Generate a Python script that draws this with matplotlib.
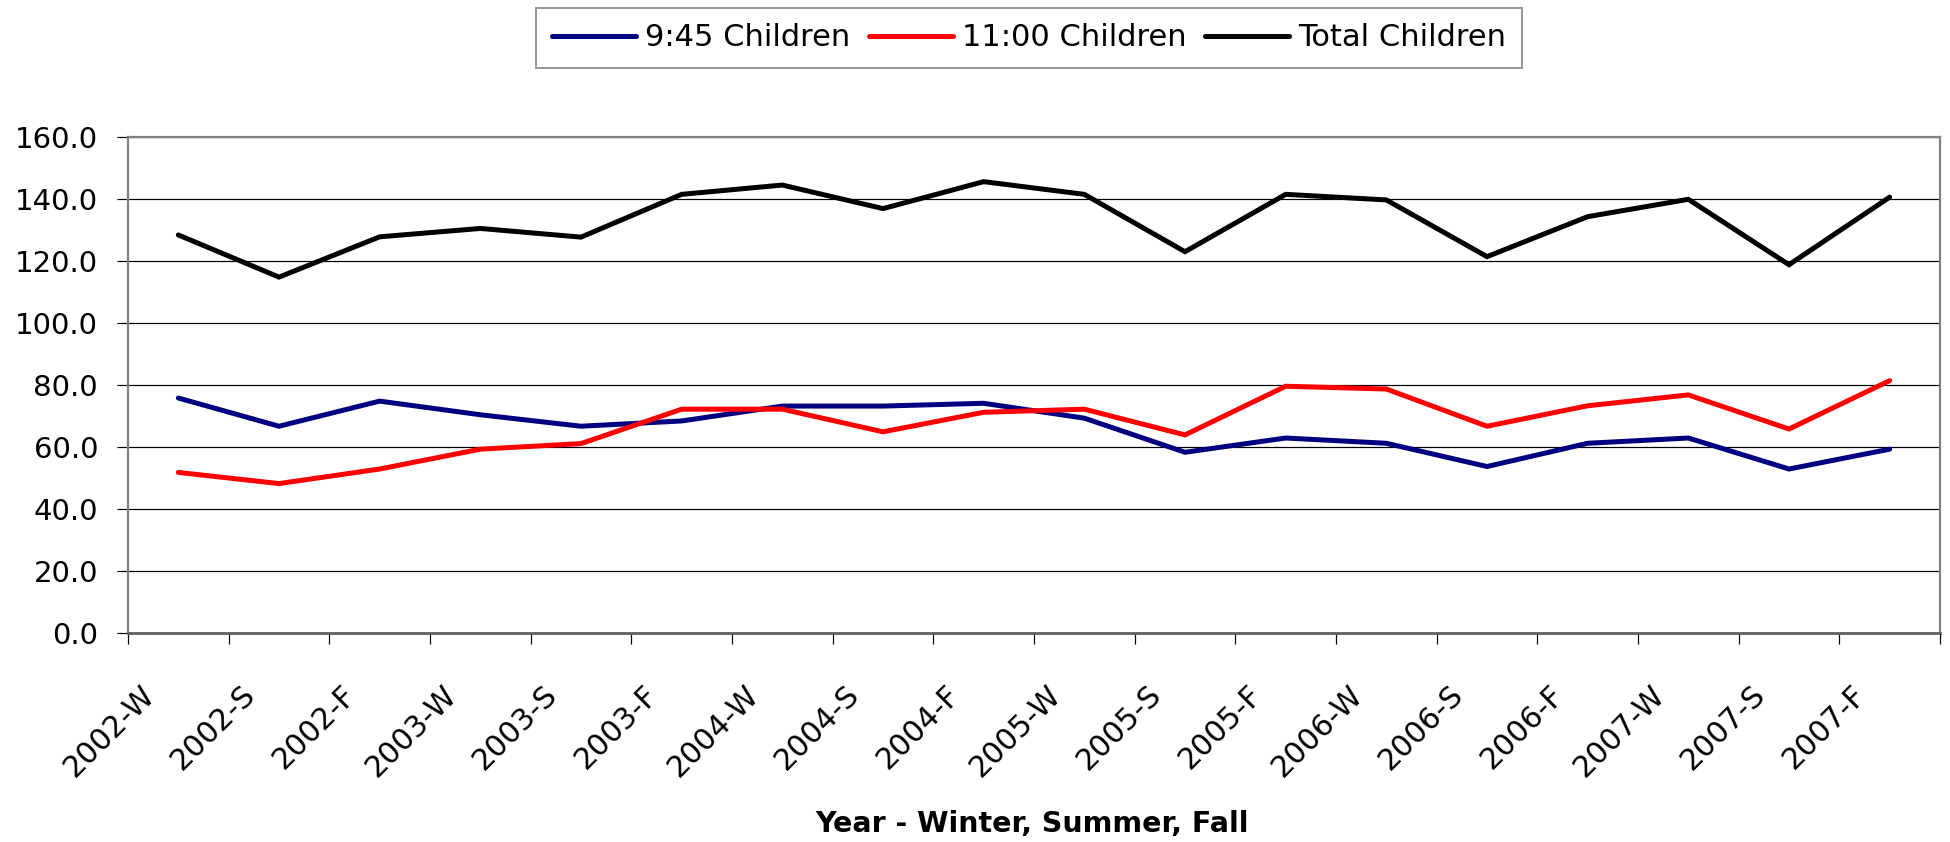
import matplotlib
matplotlib.use("Agg")
import matplotlib.pyplot as plt
from matplotlib.ticker import FixedLocator, FormatStrFormatter
from matplotlib.transforms import ScaledTranslation

categories = ["2002-W", "2002-S", "2002-F", "2003-W", "2003-S", "2003-F",
              "2004-W", "2004-S", "2004-F", "2005-W", "2005-S", "2005-F",
              "2006-W", "2006-S", "2006-F", "2007-W", "2007-S", "2007-F"]
children_945 = [75.8, 66.7, 74.8, 70.4, 66.7, 68.4, 73.2, 73.2, 74.1, 69.3,
                58.3, 62.9, 61.2, 53.7, 61.2, 62.9, 52.9, 59.3]
children_1100 = [51.8, 48.2, 52.9, 59.3, 61.1, 72.2, 72.2, 64.9, 71.2, 72.2,
                 63.9, 79.6, 78.7, 66.7, 73.3, 76.8, 65.8, 81.4]
children_total = [128.4, 114.8, 127.8, 130.5, 127.7, 141.5, 144.5, 136.9, 145.6,
                  141.5, 123.0, 141.5, 139.7, 121.4, 134.3, 139.9, 118.8, 140.6]
series_names = ["9:45 Children", "11:00 Children", "Total Children"]
series_colors = ["#000080", "#FF0000", "#000000"]
y_ticks = [0, 20, 40, 60, 80, 100, 120, 140, 160]
x_title = "Year - Winter, Summer, Fall"

W, H, DPI = 1950, 842, 100
px = 72.0 / DPI  # points per pixel

plt.rcParams["font.family"] = ["DejaVu Sans"]
fig = plt.figure(figsize=(W / DPI, H / DPI), dpi=DPI)
left, right, top, bottom = 128, 1940, 137, 633
ax = fig.add_axes([left / W, 1 - bottom / H, (right - left) / W, (bottom - top) / H])

x = list(range(len(categories)))
lines = []
for vals, name, col in zip([children_945, children_1100, children_total], series_names, series_colors):
    ln, = ax.plot(x, vals, color=col, lw=5.0 * px, label=name, solid_joinstyle="miter",
                  solid_capstyle="round", zorder=3)
    lines.append(ln)

ax.set_xlim(-0.5, len(categories) - 0.5)
ax.set_ylim(0, 160)
ax.set_yticks(y_ticks)
ax.yaxis.set_major_formatter(FormatStrFormatter("%.1f"))
ax.grid(axis="y", color="black", lw=1.2 * px, zorder=1)
ax.set_axisbelow(True)

# x: major ticks at category boundaries, labels at centers (minor)
ax.xaxis.set_major_locator(FixedLocator([i - 0.5 for i in range(len(categories) + 1)]))
ax.xaxis.set_major_formatter(plt.NullFormatter())
ax.xaxis.set_minor_locator(FixedLocator(x))
ax.set_xticklabels(categories, minor=True)
ax.tick_params(axis="x", which="major", direction="out", length=11 * px, width=1.2 * px, color="black")
ax.tick_params(axis="x", which="minor", length=0, pad=47 * px, labelsize=21.5)
ax.tick_params(axis="y", direction="out", length=11 * px, width=1.2 * px, color="black",
               pad=19 * px, labelsize=21)
for lab in ax.get_xticklabels(minor=True):
    lab.set_rotation(45)
    lab.set_ha("right")
    lab.set_va("top")
    lab.set_transform(lab.get_transform() + ScaledTranslation(-18 / DPI, 0, fig.dpi_scale_trans))

for s in ["top", "right", "left"]:
    ax.spines[s].set_color("#808080")
    ax.spines[s].set_linewidth(2.2 * px)
ax.spines["bottom"].set_color("#606060")
ax.spines["bottom"].set_linewidth(2.8 * px)

ax.set_xlabel(x_title, fontsize=20.5, fontweight="bold")
ax.xaxis.set_label_coords(0.4989, (bottom - 831.7) / (bottom - top))
ax.xaxis.label.set_va("baseline")

fs = 22
fpx = fs / px
leg = fig.legend(handles=lines, labels=series_names, loc="center",
                 bbox_to_anchor=(1029 / W, 1 - 38 / H), ncol=3, fontsize=fs,
                 frameon=True, fancybox=False, shadow=False,
                 handlelength=84 / fpx, handletextpad=9 / fpx, columnspacing=19 / fpx,
                 borderpad=0.5, borderaxespad=0)
leg.get_frame().set_edgecolor("#808080")
leg.get_frame().set_linewidth(2.0 * px)
for h in leg.legend_handles:
    h.set_linewidth(5.0 * px)
    h.set_solid_capstyle("round")

fig.savefig("out.png", dpi=DPI)
